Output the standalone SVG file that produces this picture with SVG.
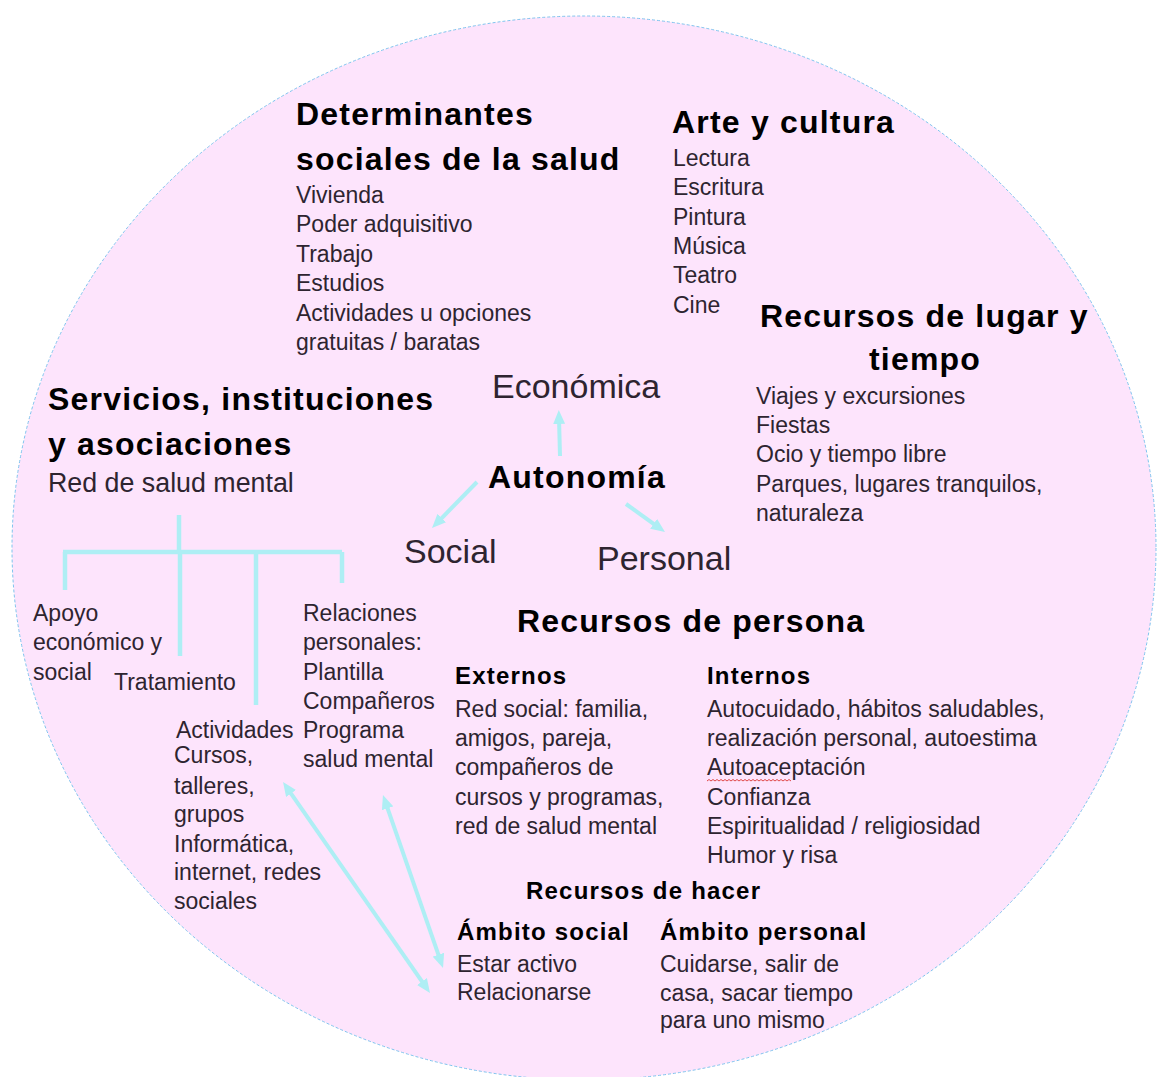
<svg xmlns="http://www.w3.org/2000/svg" width="1157" height="1077" viewBox="0 0 1157 1077">
<style>
.h{font-family:"Liberation Sans",Arial,sans-serif;font-weight:bold;font-size:32px;letter-spacing:1.2px;fill:#000}
.s{font-family:"Liberation Sans",Arial,sans-serif;font-weight:bold;font-size:24px;letter-spacing:1.2px;fill:#000}
.b{font-family:"Liberation Sans",Arial,sans-serif;font-size:23px;fill:#2e2430}
.m{font-family:"Liberation Sans",Arial,sans-serif;font-size:26.8px;fill:#2e2430}
.g{font-family:"Liberation Sans",Arial,sans-serif;font-size:34px;fill:#2e2430}
.ar{stroke:#aeeef4;stroke-width:4;fill:none}
.tr{stroke:#aeeef4;stroke-width:4.5;fill:none}
</style>
<defs>
<marker id="ah" markerUnits="userSpaceOnUse" markerWidth="14" markerHeight="12" refX="6" refY="6" orient="auto-start-reverse" viewBox="0 0 14 12">
<path d="M0,0 L14,6 L0,12 z" fill="#aeeef4"/>
</marker>
</defs>
<rect width="1157" height="1077" fill="#fff"/>
<ellipse id="circle" cx="584" cy="548" rx="572" ry="532" fill="#fde4fc" stroke="#7fc3ee" stroke-width="1" stroke-dasharray="3 2"/>

<g id="connectors">
<line class="ar" x1="560" y1="456" x2="559" y2="418" marker-end="url(#ah)"/>
<line class="ar" x1="477" y1="482" x2="437.6" y2="522.3" marker-end="url(#ah)"/>
<line class="ar" x1="626" y1="504" x2="658.5" y2="527.3" marker-end="url(#ah)"/>
<line class="ar" x1="287.6" y1="788.6" x2="425.4" y2="986.4" marker-start="url(#ah)" marker-end="url(#ah)"/>
<line class="ar" x1="385.6" y1="802.6" x2="440.4" y2="960.4" marker-start="url(#ah)" marker-end="url(#ah)"/>
<path class="tr" d="M179,515 V552 M63,552 H342 M65,552 V590 M180,552 V656 M256,552 V705 M342,552 V583"/>
</g>

<g id="determinantes">
<text class="h" x="296" y="125">Determinantes</text>
<text class="h" x="296" y="170">sociales de la salud</text>
<text class="b" x="296" y="203">Vivienda</text>
<text class="b" x="296" y="232">Poder adquisitivo</text>
<text class="b" x="296" y="262">Trabajo</text>
<text class="b" x="296" y="291">Estudios</text>
<text class="b" x="296" y="321">Actividades u opciones</text>
<text class="b" x="296" y="350">gratuitas / baratas</text>
</g>

<g id="arte">
<text class="h" x="672" y="133">Arte y cultura</text>
<text class="b" x="673" y="166">Lectura</text>
<text class="b" x="673" y="195">Escritura</text>
<text class="b" x="673" y="225">Pintura</text>
<text class="b" x="673" y="254">Música</text>
<text class="b" x="673" y="283">Teatro</text>
<text class="b" x="673" y="313">Cine</text>
</g>

<g id="lugar">
<text class="h" x="760" y="327">Recursos de lugar y</text>
<text class="h" x="925" y="370" text-anchor="middle">tiempo</text>
<text class="b" x="756" y="404">Viajes y excursiones</text>
<text class="b" x="756" y="433">Fiestas</text>
<text class="b" x="756" y="462">Ocio y tiempo libre</text>
<text class="b" x="756" y="492">Parques, lugares tranquilos,</text>
<text class="b" x="756" y="521">naturaleza</text>
</g>

<g id="servicios">
<text class="h" x="48" y="410">Servicios, instituciones</text>
<text class="h" x="48" y="455">y asociaciones</text>
<text class="m" x="48" y="492">Red de salud mental</text>
</g>

<g id="autonomia">
<text class="h" x="488" y="488">Autonomía</text>
</g>
<g id="economica"><text class="g" x="492" y="398">Económica</text></g>
<g id="social"><text class="g" x="404" y="563">Social</text></g>
<g id="personal"><text class="g" x="597" y="570">Personal</text></g>

<g id="apoyo">
<text class="b" x="33" y="621">Apoyo</text>
<text class="b" x="33" y="650">económico y</text>
<text class="b" x="33" y="680">social</text>
</g>
<g id="tratamiento"><text class="b" x="114" y="690">Tratamiento</text></g>
<g id="actividades">
<text class="b" x="176" y="738">Actividades</text>
<text class="b" x="174" y="763">Cursos,</text>
<text class="b" x="174" y="794">talleres,</text>
<text class="b" x="174" y="822">grupos</text>
<text class="b" x="174" y="852">Informática,</text>
<text class="b" x="174" y="880">internet, redes</text>
<text class="b" x="174" y="909">sociales</text>
</g>
<g id="relaciones">
<text class="b" x="303" y="621">Relaciones</text>
<text class="b" x="303" y="650">personales:</text>
<text class="b" x="303" y="680">Plantilla</text>
<text class="b" x="303" y="709">Compañeros</text>
<text class="b" x="303" y="738">Programa</text>
<text class="b" x="303" y="767">salud mental</text>
</g>

<g id="persona">
<text class="h" x="517" y="632">Recursos de persona</text>
<text class="s" x="455" y="684">Externos</text>
<text class="b" x="455" y="717">Red social: familia,</text>
<text class="b" x="455" y="746">amigos, pareja,</text>
<text class="b" x="455" y="775">compañeros de</text>
<text class="b" x="455" y="805">cursos y programas,</text>
<text class="b" x="455" y="834">red de salud mental</text>
<text class="s" x="707" y="684">Internos</text>
<text class="b" x="707" y="717">Autocuidado, hábitos saludables,</text>
<text class="b" x="707" y="746">realización personal, autoestima</text>
<text class="b" x="707" y="775">Autoaceptación</text>
<path d="M707,781 l2,-1.5 l2,1.5 l2,-1.5 l2,1.5 l2,-1.5 l2,1.5 l2,-1.5 l2,1.5 l2,-1.5 l2,1.5 l2,-1.5 l2,1.5 l2,-1.5 l2,1.5 l2,-1.5 l2,1.5 l2,-1.5 l2,1.5 l2,-1.5 l2,1.5 l2,-1.5 l2,1.5 l2,-1.5 l2,1.5 l2,-1.5 l2,1.5 l2,-1.5 l2,1.5 l2,-1.5 l2,1.5 l2,-1.5 l2,1.5 l2,-1.5 l2,1.5 l2,-1.5 l2,1.5 l2,-1.5 l2,1.5 l2,-1.5 l2,1.5 l2,-1.5 l2,1.5" stroke="#e04848" stroke-width="1" fill="none"/>
<text class="b" x="707" y="805">Confianza</text>
<text class="b" x="707" y="834">Espiritualidad / religiosidad</text>
<text class="b" x="707" y="863">Humor y risa</text>
</g>

<g id="hacer">
<text class="s" x="526" y="899">Recursos de hacer</text>
<text class="s" x="457" y="940">Ámbito social</text>
<text class="b" x="457" y="972">Estar activo</text>
<text class="b" x="457" y="1000">Relacionarse</text>
<text class="s" x="660" y="940">Ámbito personal</text>
<text class="b" x="660" y="972">Cuidarse, salir de</text>
<text class="b" x="660" y="1001">casa, sacar tiempo</text>
<text class="b" x="660" y="1028">para uno mismo</text>
</g>
</svg>
